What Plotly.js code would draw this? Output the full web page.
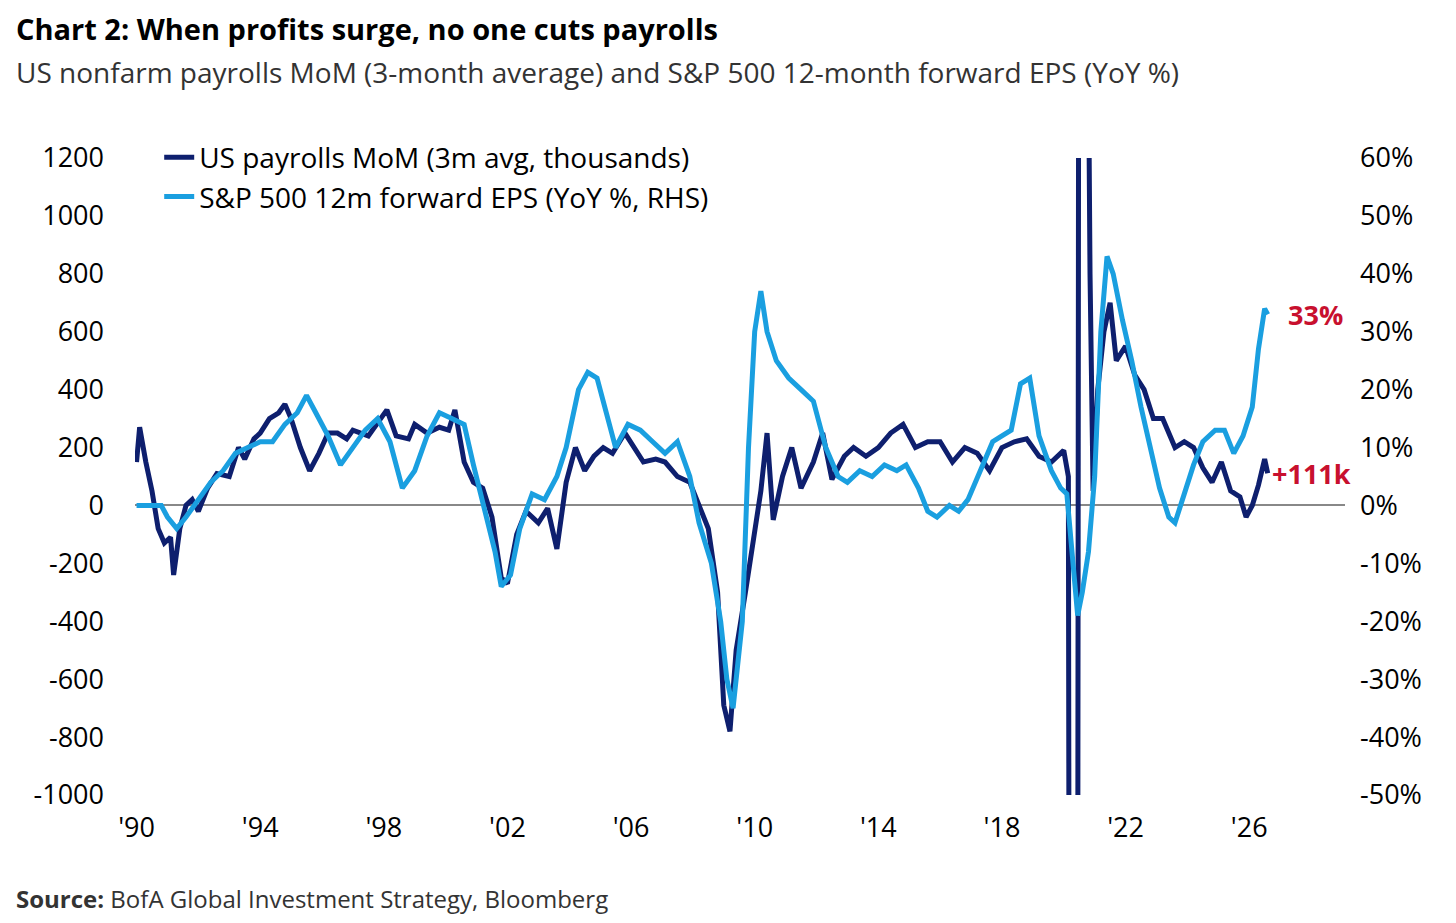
<!DOCTYPE html>
<html><head><meta charset="utf-8">
<script src="https://cdn.plot.ly/plotly-3.0.1.min.js"></script>
<style>body{margin:0;background:#fff}#myDiv{width:1456px;height:923px}</style>
</head><body><div id="myDiv"></div>
<script>
var payX = [1990.0,1990.1,1990.3,1990.5,1990.7,1990.9,1991.1,1991.2,1991.4,1991.6,1991.8,1992.0,1992.3,1992.6,1993.0,1993.3,1993.5,1993.8,1994.0,1994.3,1994.6,1994.8,1995.0,1995.3,1995.6,1995.9,1996.2,1996.5,1996.8,1997.0,1997.5,1997.9,1998.1,1998.4,1998.8,1999.0,1999.4,1999.8,2000.1,2000.3,2000.6,2000.9,2001.2,2001.5,2001.8,2002.0,2002.3,2002.6,2003.0,2003.3,2003.6,2003.9,2004.2,2004.5,2004.8,2005.1,2005.4,2005.8,2006.1,2006.4,2006.8,2007.1,2007.5,2007.9,2008.2,2008.5,2008.8,2009.0,2009.2,2009.4,2009.7,2009.9,2010.2,2010.4,2010.6,2010.9,2011.2,2011.5,2011.9,2012.2,2012.5,2012.9,2013.2,2013.6,2014.0,2014.4,2014.8,2015.2,2015.6,2016.0,2016.4,2016.8,2017.2,2017.6,2018.0,2018.4,2018.8,2019.2,2019.6,2020.0,2020.15,2020.25,2020.4,2020.5,2020.7,2020.85,2020.95,2021.1,2021.3,2021.5,2021.7,2022.0,2022.3,2022.6,2022.9,2023.2,2023.6,2023.9,2024.2,2024.5,2024.8,2025.1,2025.4,2025.7,2025.9,2026.1,2026.3,2026.5,2026.6];
var payY = [150,270,150,50,-80,-130,-110,-240,-80,0,20,-20,60,110,100,200,160,230,250,300,320,350,300,200,120,180,250,250,230,260,240,300,330,240,230,280,250,270,260,330,150,80,60,-40,-250,-270,-100,-20,-60,-10,-150,80,200,120,170,200,180,250,200,150,160,150,100,80,0,-80,-300,-690,-780,-500,-300,-150,50,250,-50,100,200,60,150,250,90,170,200,170,200,250,280,200,220,220,150,200,180,120,200,220,230,170,150,190,100,-7000,-7000,3500,3000,800,50,400,600,700,500,550,450,400,300,300,200,220,200,130,80,150,50,30,-40,0,70,160,111];
var epsX = [1990.0,1990.8,1991.0,1991.3,1991.6,1992.0,1992.4,1992.8,1993.2,1993.6,1994.0,1994.4,1994.8,1995.2,1995.5,1995.8,1996.2,1996.6,1997.0,1997.4,1997.8,1998.2,1998.6,1999.0,1999.4,1999.8,2000.2,2000.6,2000.9,2001.3,2001.6,2001.8,2002.1,2002.4,2002.8,2003.2,2003.6,2003.9,2004.3,2004.6,2004.9,2005.2,2005.5,2005.9,2006.3,2006.7,2007.1,2007.5,2007.9,2008.2,2008.6,2008.9,2009.1,2009.3,2009.6,2009.8,2010.0,2010.2,2010.4,2010.7,2011.1,2011.5,2011.9,2012.3,2012.7,2013.0,2013.4,2013.8,2014.2,2014.6,2014.9,2015.3,2015.6,2015.9,2016.3,2016.6,2016.9,2017.3,2017.7,2018.0,2018.3,2018.6,2018.9,2019.2,2019.6,2019.9,2020.1,2020.3,2020.45,2020.6,2020.8,2021.0,2021.2,2021.4,2021.6,2021.9,2022.2,2022.5,2022.8,2023.1,2023.4,2023.6,2023.9,2024.2,2024.5,2024.9,2025.2,2025.5,2025.8,2026.1,2026.3,2026.5,2026.6];
var epsY = [0,0,-2,-4,-2,1,4,6,9,10,11,11,14,16,19,16,12,7,10,13,15,11,3,6,12,16,15,14,7,-2,-8,-14,-12,-4,2,1,5,10,20,23,22,16,10,14,13,11,9,11,5,-3,-10,-20,-30,-35,-20,10,30,37,30,25,22,20,18,10,5,4,6,5,7,6,7,3,-1,-2,0,-1,1,6,11,12,13,21,22,12,6,3,2,-10,-19,-15,-8,5,30,43,40,32,25,17,10,3,-2,-3,2,7,11,13,13,9,12,17,27,34,33];
var tickYears = [1990,1994,1998,2002,2006,2010,2014,2018,2022,2026];
var tickText = ["'90","'94","'98","'02","'06","'10","'14","'18","'22","'26"];
var leftTicks = [-1000,-800,-600,-400,-200,0,200,400,600,800,1000,1200];
var rightTicks = [-50,-40,-30,-20,-10,0,10,20,30,40,50,60];

var F = "Open Sans, Lato, sans-serif";
var data = [
  {x: payX, y: payY, mode: "lines", name: "US payrolls MoM (3m avg, thousands)",
   line: {color: "#0e1f6e", width: 5}, type: "scatter"},
  {x: epsX, y: epsY, mode: "lines", name: "S&P 500 12m forward EPS (YoY %, RHS)",
   line: {color: "#1a9fe0", width: 5}, yaxis: "y2", type: "scatter"}
];
var layout = {
  width: 1456, height: 923,
  margin: {l: 135, r: 111, t: 158, b: 128},
  paper_bgcolor: "#fff", plot_bgcolor: "#fff",
  font: {family: F, size: 27, color: "#000"},
  showlegend: true,
  legend: {x: 0.02, y: 1.04, xanchor: "left", yanchor: "top", bgcolor: "rgba(0,0,0,0)",
           font: {size: 28}, tracegroupgap: 30},
  xaxis: {range: [1989.95, 2029.1], tickvals: tickYears, ticktext: tickText,
          showgrid: false, zeroline: false, showline: false, ticks: "", ticklabelstandoff: 14},
  yaxis: {range: [-1000, 1200], tickvals: leftTicks, ticktext: leftTicks.map(String),
          showgrid: false, zeroline: true, zerolinecolor: "#888", zerolinewidth: 2,
          ticks: "", ticklabelstandoff: 30},
  yaxis2: {range: [-50, 60], tickvals: rightTicks, ticktext: rightTicks.map(function(v){return v + "%";}),
           overlaying: "y", side: "right", showgrid: false, zeroline: false,
           ticks: "", ticklabelstandoff: 14},
  annotations: [
    {xref: "paper", yref: "paper", x: -0.1, y: 1.203, xanchor: "left", yanchor: "middle", showarrow: false,
     text: "<b>Chart 2: When profits surge, no one cuts payrolls</b>", font: {size: 29, family: F}},
    {xref: "paper", yref: "paper", x: -0.1, y: 1.135, xanchor: "left", yanchor: "middle", showarrow: false,
     text: "US nonfarm payrolls MoM (3-month average) and S&P 500 12-month forward EPS (YoY %)", font: {size: 28, color: "#333", family: F}},
    {xref: "paper", yref: "paper", x: -0.1, y: -0.162, xanchor: "left", yanchor: "middle", showarrow: false,
     text: "<b>Source:</b> BofA Global Investment Strategy, Bloomberg", font: {size: 24, color: "#333", family: F}},
    {x: 2026.6, y: 111, xanchor: "left", showarrow: false, xshift: 2,
     text: "<b>+111k</b>", font: {size: 27, color: "#c8102e", family: F}},
    {x: 2026.6, y: 33, yref: "y2", xanchor: "left", showarrow: false, xshift: 18,
     text: "<b>33%</b>", font: {size: 27, color: "#c8102e", family: F}}
  ]
};
Plotly.newPlot("myDiv", data, layout, {displayModeBar: false});
</script></body></html>
